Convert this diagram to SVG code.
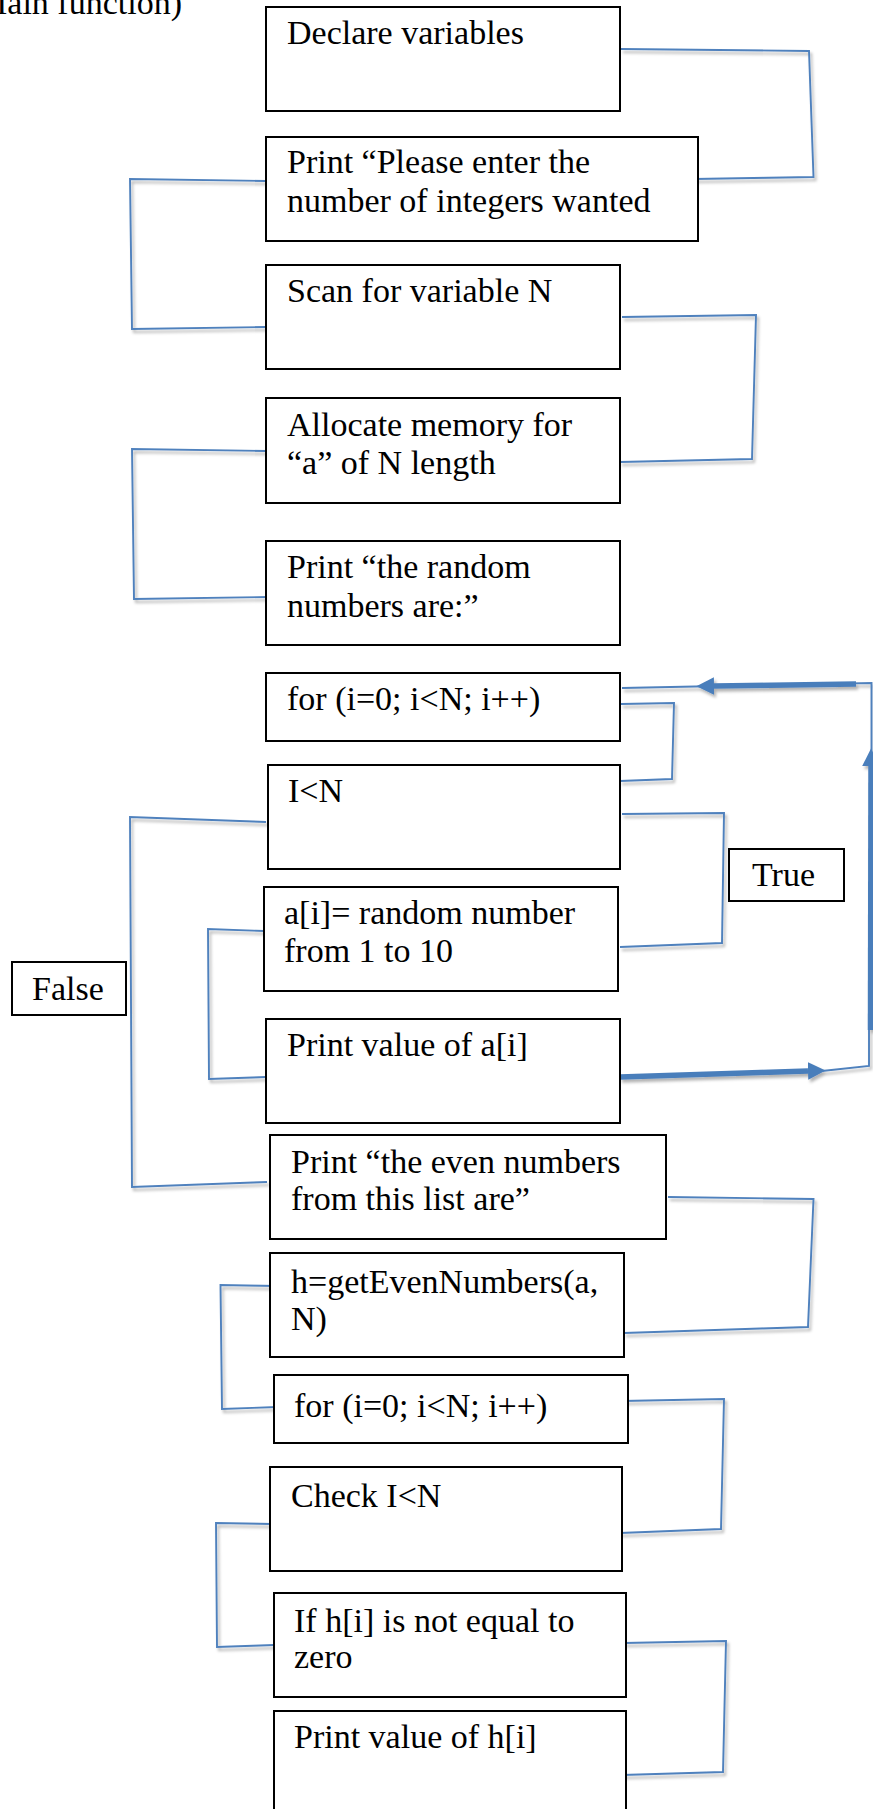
<svg xmlns="http://www.w3.org/2000/svg" width="873" height="1809" viewBox="0 0 873 1809">
<style>
.box{fill:#fff;stroke:#000;stroke-width:2}
.t{font-family:"Liberation Serif",serif;font-size:34px;fill:#000}
.c{fill:none;stroke:#4F81BD;stroke-width:1.9;stroke-linejoin:miter}
.thick{fill:none;stroke:#4A7EBB;stroke-width:5.5}
</style>
<defs>
<filter id="sh" x="-10%" y="-10%" width="130%" height="130%">
<feDropShadow dx="2" dy="3" stdDeviation="1.5" flood-color="#000" flood-opacity="0.3"/>
</filter>
<marker id="ah" viewBox="0 0 10 10" refX="0" refY="5" markerWidth="3.2" markerHeight="3.2" orient="auto" markerUnits="strokeWidth">
<path d="M0,0 L10,5 L0,10 z" fill="#4A7EBB"/>
</marker>
</defs>
<rect width="873" height="1809" fill="#fff"/>
<text class="t" x="182" y="14" text-anchor="end">(Main function)</text>

<g id="connectors" filter="url(#sh)">
<polyline class="c" points="621,49 809,51 813.5,177 694,179"/>
<polyline class="c" points="266,181 130,179 132,329 267,327"/>
<polyline class="c" points="622,317 756,315 752,459 620,462"/>
<polyline class="c" points="267,451 132,449 134,599 269,597"/>
<polyline class="c" points="621,704 674,703 672,779 620,781"/>
<polyline class="c" points="266,822 130,817 132,1187 267,1182"/>
<polyline class="c" points="622,814 724,813 722,943 620,947"/>
<polyline class="c" points="264,931 208,929 209,1079 266,1077"/>
<polyline class="c" points="668,1197 813.5,1199 808,1327 624,1333"/>
<polyline class="c" points="277,1286 220.5,1285 222,1409 277,1407"/>
<polyline class="c" points="622,1401 724,1399 721,1529 620,1533"/>
<polyline class="c" points="272,1524 216,1523 217,1647 274,1645"/>
<polyline class="c" points="624,1643 726,1641 723,1772 622,1775"/>
<polyline class="c" points="622,688 871.5,683 871.5,760"/>
<polyline class="c" points="822,1071 869,1066 869,1030"/>
<line class="thick" x1="856" y1="684" x2="714" y2="686" marker-end="url(#ah)"/>
<line class="thick" x1="620" y1="1077" x2="808" y2="1071" marker-end="url(#ah)"/>
<line class="thick" x1="870.5" y1="1030" x2="871" y2="766" marker-end="url(#ah)"/>
</g>

<g id="n1"><rect class="box" x="266" y="7" width="354" height="104"/><text class="t" x="287" y="44">Declare variables</text></g>
<g id="n2"><rect class="box" x="266" y="137" width="432" height="104"/><text class="t" x="287" y="173">Print “Please enter the</text><text class="t" x="287" y="211.5">number of integers wanted</text></g>
<g id="n3"><rect class="box" x="266" y="265" width="354" height="104"/><text class="t" x="287" y="302">Scan for variable N</text></g>
<g id="n4"><rect class="box" x="266" y="398" width="354" height="105"/><text class="t" x="287" y="436">Allocate memory for</text><text class="t" x="287" y="474">“a” of N length</text></g>
<g id="n5"><rect class="box" x="266" y="541" width="354" height="104"/><text class="t" x="287" y="578">Print “the random</text><text class="t" x="287" y="617">numbers are:”</text></g>
<g id="n6"><rect class="box" x="266" y="673" width="354" height="68"/><text class="t" x="287" y="710">for (i=0; i&lt;N; i++)</text></g>
<g id="n7"><rect class="box" x="268" y="765" width="352" height="104"/><text class="t" x="288" y="802">I&lt;N</text></g>
<g id="n8"><rect class="box" x="264" y="887" width="354" height="104"/><text class="t" x="284" y="924">a[i]= random number</text><text class="t" x="284" y="962">from 1 to 10</text></g>
<g id="n9"><rect class="box" x="266" y="1019" width="354" height="104"/><text class="t" x="287" y="1056">Print value of a[i]</text></g>
<g id="n10"><rect class="box" x="270" y="1135" width="396" height="104"/><text class="t" x="291" y="1173">Print “the even numbers</text><text class="t" x="291" y="1210">from this list are”</text></g>
<g id="n11"><rect class="box" x="270" y="1253" width="354" height="104"/><text class="t" x="291" y="1293">h=getEvenNumbers(a,</text><text class="t" x="291" y="1330">N)</text></g>
<g id="n12"><rect class="box" x="274" y="1375" width="354" height="68"/><text class="t" x="294" y="1417">for (i=0; i&lt;N; i++)</text></g>
<g id="n13"><rect class="box" x="270" y="1467" width="352" height="104"/><text class="t" x="291" y="1507">Check I&lt;N</text></g>
<g id="n14"><rect class="box" x="274" y="1593" width="352" height="104"/><text class="t" x="294" y="1632">If h[i] is not equal to</text><text class="t" x="294" y="1668">zero</text></g>
<g id="n15"><rect class="box" x="274" y="1711" width="352" height="110"/><text class="t" x="294" y="1748">Print value of h[i]</text></g>
<g id="lblTrue"><rect class="box" x="729" y="849" width="115" height="52"/><text class="t" x="752" y="886">True</text></g>
<g id="lblFalse"><rect class="box" x="12" y="962" width="114" height="53"/><text class="t" x="32" y="1000">False</text></g>
</svg>
